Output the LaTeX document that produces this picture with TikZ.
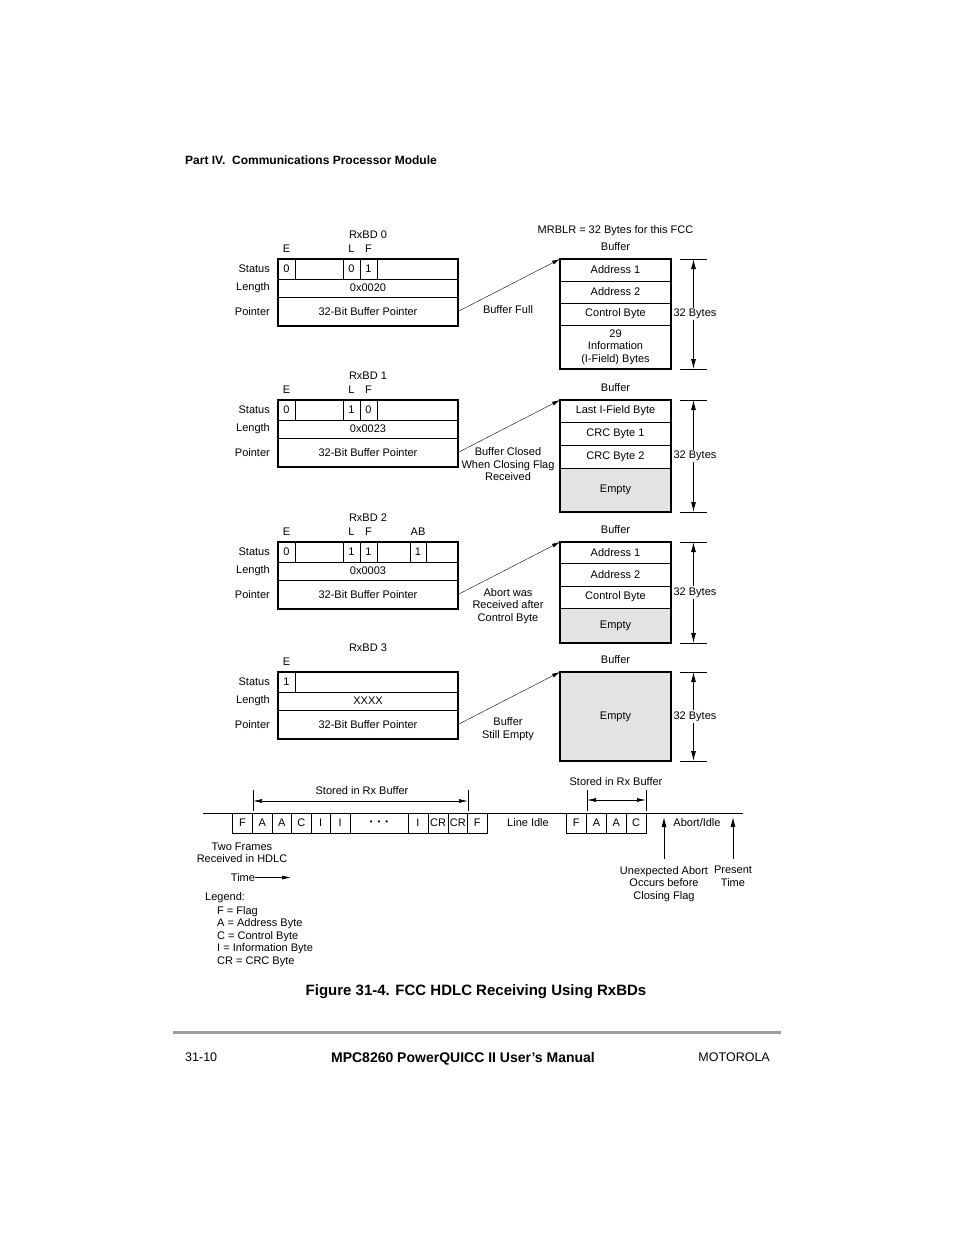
\documentclass[tikz,border=0pt]{standalone}
\usepackage{fontspec}
\setmainfont{Liberation Sans}
\usetikzlibrary{arrows.meta,positioning}

\definecolor{emptygray}{gray}{0.89}
\definecolor{rulegray}{gray}{0.62}
\newcommand{\figfont}{\fontsize{11}{12.5}\selectfont}

\begin{document}
\begin{tikzpicture}[x=1pt,y=-1pt,
  lbl/.style={font=\figfont, inner sep=0pt, align=center},
  row/.style={draw, line width=0.8pt, inner sep=0pt, outer sep=0pt, minimum width=180pt, font=\figfont},
  bufrow/.style={draw, line width=0.8pt, inner sep=0pt, outer sep=0pt, minimum width=111pt, font=\figfont, align=center},
  cell/.style={draw, line width=0.8pt, inner sep=0pt, outer sep=0pt, minimum height=20pt, font=\figfont},
  cellline/.style={line width=0.9pt},
  frame/.style={line width=1.3pt},
  heavy/.style={line width=2pt},
  ptr/.style={-{Latex[length=8pt,width=4pt]}, line width=0.4pt},
  dimarr/.style={-{Latex[length=10pt,width=5pt]}, line width=0.9pt},
  store/.style={{Latex[length=9pt,width=4pt]}-{Latex[length=9pt,width=4pt]}, line width=0.7pt},
  tick/.style={line width=0.8pt},
]
\useasboundingbox (0,0) rectangle (954,1235);

% ============================
% PAGE HEADER
% ============================

\node[anchor=west, inner sep=0pt, font=\bfseries\fontsize{12}{14}\selectfont] (hdr) at (185,160)
  {Part IV.\ \ Communications Processor Module};

% ============================
% RX BUFFER DESCRIPTORS
% ============================

\foreach \k/\ty/\len in {0/259/0x0020, 1/400/0x0023, 2/542/0x0003, 3/672/XXXX} {
  \node[lbl] (title\k) at (368,\ty-24) {RxBD \k};
  \node[row, minimum height=20pt, anchor=north west] (bds\k) at (278,\ty) {};
  \node[row, minimum height=18pt, below=0pt of bds\k] (bdl\k) {\len};
  \node[row, minimum height=29pt, below=0pt of bdl\k] (bdp\k) {32-Bit Buffer Pointer};
  \node[lbl, left=8pt of bds\k] (ls\k) {Status};
  \node[lbl, left=8pt of bdl\k] (ll\k) {Length};
  \node[lbl, left=8pt of bdp\k] (lp\k) {Pointer};
  \node[lbl] (he\k) at (286.5,\ty-10) {E};
  \draw[cellline] (295,\ty) -- (295,\ty+20);
  \draw[frame] (bds\k.north west) rectangle (bdp\k.south east);
  \draw[heavy] (bds\k.north east) -- (bdp\k.south east) -- (bdp\k.south west);
}

% E bits
\foreach \k/\ty/\v in {0/259/0, 1/400/0, 2/542/0, 3/672/1}
  \node[lbl] (ve\k) at (286.5,\ty+10) {\v};

% L and F bits
\foreach \k/\ty/\l/\f in {0/259/0/1, 1/400/1/0, 2/542/1/1} {
  \node[lbl] (hl\k) at (351.5,\ty-10) {L};
  \node[lbl] (hf\k) at (368.5,\ty-10) {F};
  \draw[cellline] (343,\ty) -- (343,\ty+20) (360,\ty) -- (360,\ty+20) (377,\ty) -- (377,\ty+20);
  \node[lbl] (vl\k) at (351.5,\ty+10) {\l};
  \node[lbl] (vf\k) at (368.5,\ty+10) {\f};
}

% AB bit (RxBD 2 only)
\node[lbl] (hab) at (418,532) {AB};
\draw[cellline] (410,542) -- (410,562) (426,542) -- (426,562);
\node[lbl] (vab) at (418,552) {1};

% ============================
% BUFFERS
% ============================

\node[lbl] (mrblr) at (615.5,231) {MRBLR = 32 Bytes for this FCC};

% buffer 0
\node[lbl] (bt0) at (615.5,247) {Buffer};
\node[bufrow, minimum height=22pt, anchor=north west] (b0a) at (560,259) {Address 1};
\node[bufrow, minimum height=22pt, below=0pt of b0a] (b0b) {Address 2};
\node[bufrow, minimum height=22pt, below=0pt of b0b] (b0c) {Control Byte};
\node[bufrow, minimum height=44pt, below=0pt of b0c] (b0d) {29\\Information\\(I-Field) Bytes};
\draw[frame] (b0a.north west) rectangle (b0d.south east);

% buffer 1
\node[lbl] (bt1) at (615.5,388) {Buffer};
\node[bufrow, minimum height=22pt, anchor=north west] (b1a) at (560,400) {Last I-Field Byte};
\node[bufrow, minimum height=23pt, below=0pt of b1a] (b1b) {CRC Byte 1};
\node[bufrow, minimum height=23pt, below=0pt of b1b] (b1c) {CRC Byte 2};
\node[bufrow, minimum height=44pt, fill=emptygray, below=0pt of b1c] (b1d) {Empty};
\draw[frame] (b1a.north west) rectangle (b1d.south east);

% buffer 2
\node[lbl] (bt2) at (615.5,530) {Buffer};
\node[bufrow, minimum height=21pt, anchor=north west] (b2a) at (560,542) {Address 1};
\node[bufrow, minimum height=23pt, below=0pt of b2a] (b2b) {Address 2};
\node[bufrow, minimum height=22pt, below=0pt of b2b] (b2c) {Control Byte};
\node[bufrow, minimum height=35pt, fill=emptygray, below=0pt of b2c] (b2d) {Empty};
\draw[frame] (b2a.north west) rectangle (b2d.south east);

% buffer 3
\node[lbl] (bt3) at (615.5,660) {Buffer};
\node[bufrow, minimum height=89pt, fill=emptygray, anchor=north west] (b3a) at (560,672) {Empty};
\draw[frame] (b3a.north west) rectangle (b3a.south east);

% 32 byte dimensions
\foreach \k/\t/\b in {0/259/369, 1/400/512, 2/542/643, 3/672/761} {
  \coordinate (dt\k) at (693.5,\t);
  \coordinate (db\k) at (693.5,\b);
  \draw[tick] ([xshift=-13.5pt]dt\k) -- ([xshift=13.5pt]dt\k);
  \draw[tick] ([xshift=-13.5pt]db\k) -- ([xshift=13.5pt]db\k);
  \node[lbl, fill=white, inner sep=1pt] (dim\k) at (695,{(\t+\b)/2}) {32 Bytes};
  \draw[dimarr] (dim\k.north -| dt\k) -- (dt\k);
  \draw[dimarr] (dim\k.south -| db\k) -- (db\k);
}

% ============================
% POINTERS
% ============================

\draw[ptr] (bdp0.east) -- (b0a.north west);
\draw[ptr] (bdp1.east) -- (b1a.north west);
\draw[ptr] (bdp2.east) -- (b2a.north west);
\draw[ptr] (bdp3.east) -- (b3a.north west);

\node[lbl] (why0) at (508,310) {Buffer Full};
\node[lbl] (why1) at (508,464.5) {Buffer Closed\\When Closing Flag\\Received};
\node[lbl] (why2) at (508,606) {Abort was\\Received after\\Control Byte};
\node[lbl] (why3) at (508,729) {Buffer\\Still Empty};

% ============================
% HDLC LINE
% ============================

\coordinate (lineL) at (203,813);
\coordinate (lineR) at (743,813);
\draw[line width=0.8pt] (lineL) -- (lineR);

\foreach \xl/\xr/\t [count=\i] in {232.5/252.5/F, 252.5/272/A, 272/291.5/A, 291.5/311/C, 311/330.5/I,
    330.5/350/I, 350/408/{{\fontsize{8}{8}\selectfont\textbullet\hspace{5pt}\textbullet\hspace{5pt}\textbullet}},
    408/428/I, 428/448/CR, 448/467.5/CR, 467.5/487/F}
  \node[cell, minimum width=\xr-\xl, anchor=north west] (fa\i) at (\xl,813) {\t};

\foreach \xl/\xr/\t [count=\i] in {566/586.5/F, 586.5/606.5/A, 606.5/626/A, 626/646/C}
  \node[cell, minimum width=\xr-\xl, anchor=north west] (fb\i) at (\xl,813) {\t};

% stored spans
\node[lbl] (stored1) at (362,791) {Stored in Rx Buffer};
\coordinate (s1a) at (253,801);
\coordinate (s1b) at (468,801);
\draw[tick] (253,790) -- (253,811) (468,790) -- (468,811);
\draw[store] (s1a) -- (s1b);

\node[lbl] (stored2) at (616,782) {Stored in Rx Buffer};
\coordinate (s2a) at (587,800);
\coordinate (s2b) at (646,800);
\draw[tick] (587,790) -- (587,811) (646,790) -- (646,811);
\draw[store] (s2a) -- (s2b);

\node[lbl] (idle) at (528,823) {Line Idle};
\node[lbl] (abidle) at (697,823) {Abort/Idle};

% events
\node[lbl, anchor=north] (abort) at (664,866) {Unexpected Abort\\Occurs before\\Closing Flag};
\node[lbl, anchor=north] (now) at (733,866) {Present\\Time};
\coordinate (abortpt) at (664,817);
\coordinate (nowpt) at (733,817);
\draw[dimarr, shorten <=7pt] (abort.north) -- (abortpt);
\draw[dimarr, shorten <=7pt] (now.north) -- (nowpt);

\node[lbl] (frames) at (242,853) {Two Frames\\Received in HDLC};
\node[lbl] (time) at (243,877.5) {Time};
\coordinate (timeend) at (291,877.5);
\draw[store, -{Latex[length=9pt,width=4pt]}] (time) -- (timeend);

% ============================
% LEGEND
% ============================

\node[lbl, anchor=west] (leg) at (205,897.5) {Legend:};
\node[lbl, anchor=north west, align=left] (legitems) at (217,906)
  {F = Flag\\A = Address Byte\\C = Control Byte\\I = Information Byte\\CR = CRC Byte};

% ============================
% CAPTION AND FOOTER
% ============================

\node[inner sep=0pt, font=\bfseries\fontsize{15}{18}\selectfont] (cap) at (476,992)
  {Figure 31-4. FCC HDLC Receiving Using RxBDs};

\coordinate (ruleL) at (173,1032);
\coordinate (ruleR) at (781,1032);
\draw[rulegray, line width=3pt] (ruleL) -- (ruleR);

\node[anchor=west, inner sep=0pt, font=\fontsize{12.5}{14}\selectfont] (pg) at (185,1057) {31-10};
\node[inner sep=0pt, font=\bfseries\fontsize{14}{16}\selectfont] (man) at (463,1058.5) {MPC8260 PowerQUICC II User's Manual};
\node[anchor=east, inner sep=0pt, font=\fontsize{12.5}{14}\selectfont] (moto) at (770,1057) {MOTOROLA};

\end{tikzpicture}
\end{document}
